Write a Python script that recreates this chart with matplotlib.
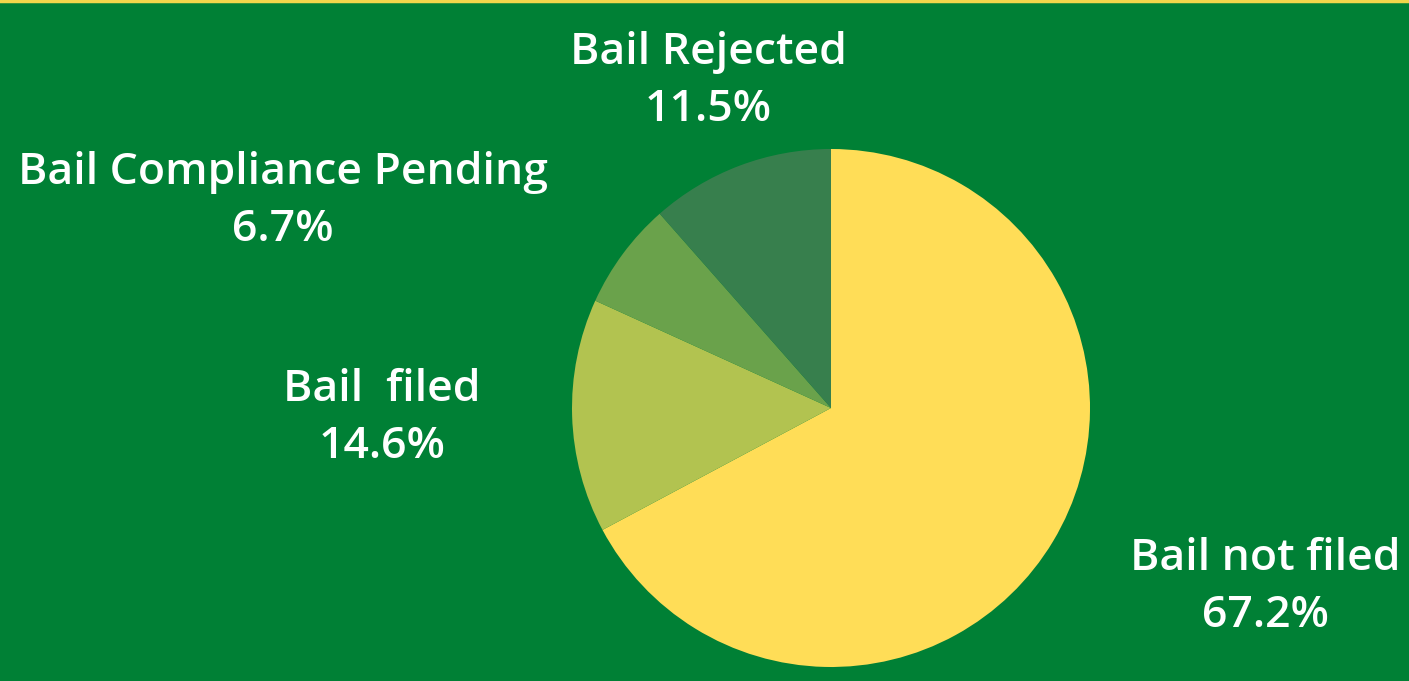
import numpy as np
import matplotlib.pyplot as plt

# data
categorias = ['Bail not filed', 'Bail  filed', 'Bail Compliance Pending', 'Bail Rejected']
percentuais = [67.2, 14.6, 6.7, 11.5]
cores = ['#FFDD57', '#B2C350', '#6AA24B', '#377F4D']

# label anchor positions in pixel space (x, y from top)
pos_labels = [(1265, 587), (382, 418), (283, 201), (708, 81)]

fundo = '#008035'
W, H = 1409, 681

fig = plt.figure(figsize=(W / 100, H / 100), dpi=100, facecolor=fundo)
ax = fig.add_axes([0, 0, 1, 1])
ax.set_facecolor(fundo)

ax.pie(percentuais, colors=cores, startangle=90, counterclock=False,
       center=(831, H - 408), radius=259, wedgeprops={'linewidth': 0},
       frame=True)
ax.set_xlim(0, W)
ax.set_ylim(0, H)
ax.set_aspect('equal')
ax.axis('off')

for nome, pct, (x, y) in zip(categorias, percentuais, pos_labels):
    ax.text(x, H - y, '{}\n{:.1f}%'.format(nome, pct), ha='center', va='center',
            color='white', fontsize=32, family='Open Sans', fontweight='semibold',
            linespacing=1.42)

# thin yellow line on top
fig.add_artist(plt.Line2D([0, 1], [0.998, 0.998], color='#F2D64B', linewidth=2.5,
                          transform=fig.transFigure))

fig.savefig('out.png', dpi=100, facecolor=fundo)
